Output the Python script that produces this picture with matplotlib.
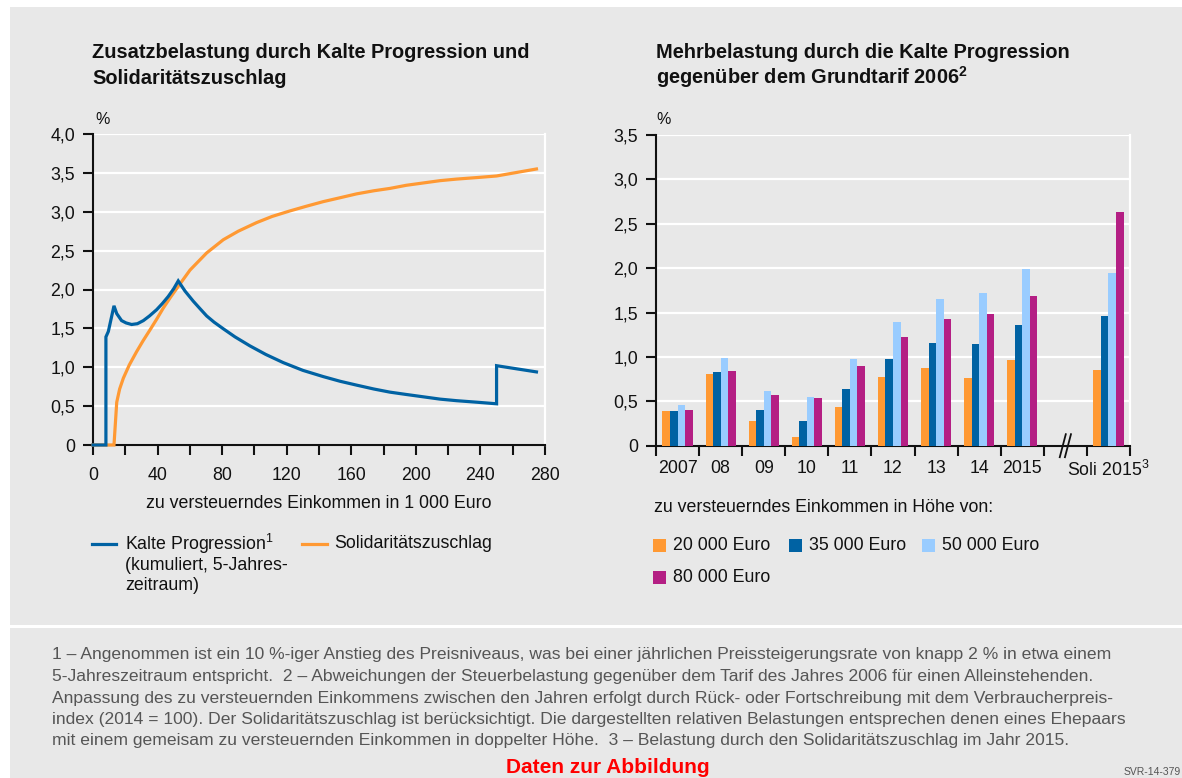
import numpy as np
import matplotlib
matplotlib.use("Agg")
import matplotlib.pyplot as plt
from matplotlib.patches import Rectangle
from matplotlib.lines import Line2D
import matplotlib.transforms as mtransforms

plt.rcParams['font.family'] = ['Liberation Sans', 'DejaVu Sans']
plt.rcParams['mathtext.fontset'] = 'custom'
plt.rcParams['mathtext.rm'] = 'Liberation Sans'
plt.rcParams['mathtext.bf'] = 'Liberation Sans:bold'

# linkes Diagramm: Einkommen in 1 000 Euro / Belastung in %
kp_x = [0, 8, 8, 9.5, 13, 14.7, 17.7, 20.5, 23.9, 27.5, 31.2, 35, 39.4, 43, 46.6, 50, 52.8,
        57, 62.1, 66, 70.4, 75, 80.7, 88, 97.2, 107, 117.8, 130, 142.6, 153, 163.3, 174,
        183.9, 194, 204.5, 215, 225.2, 238, 250, 250, 274.7]
kp_y = [0, 0, 1.39, 1.46, 1.79, 1.69, 1.60, 1.57, 1.55, 1.56, 1.60, 1.66, 1.74, 1.82, 1.91, 2.01, 2.11,
        1.98, 1.85, 1.76, 1.66, 1.58, 1.495, 1.39, 1.275, 1.165, 1.06, 0.96, 0.88, 0.82, 0.77, 0.72,
        0.68, 0.65, 0.62, 0.59, 0.57, 0.55, 0.53, 1.02, 0.94]
soli_x = [0, 13, 14.7, 16.5, 18.8, 22.5, 27, 31, 35.3, 39.5, 43.5, 48, 52.8, 60.1, 70.4, 80.7, 90,
          101.3, 111, 121.9, 132, 142.6, 153, 163.3, 174, 183.9, 194, 204.5, 215, 225.2, 238, 250, 274.7]
soli_y = [0, 0, 0.55, 0.72, 0.86, 1.03, 1.20, 1.34, 1.48, 1.62, 1.76, 1.90, 2.04, 2.25, 2.47, 2.64, 2.75,
          2.86, 2.94, 3.01, 3.07, 3.13, 3.18, 3.23, 3.27, 3.30, 3.34, 3.37, 3.40, 3.42, 3.44, 3.46, 3.55]

# rechtes Diagramm
jahre = ["2007", "08", "09", "10", "11", "12", "13", "14", "2015", "", "Soli 2015$^{\\mathrm{3}}$"]
pos = [0, 1, 2, 3, 4, 5, 6, 7, 8, 10]
eur20 = [0.39, 0.81, 0.28, 0.10, 0.44, 0.77, 0.88, 0.76, 0.97, 0.85]
eur35 = [0.39, 0.83, 0.40, 0.28, 0.64, 0.98, 1.16, 1.15, 1.36, 1.46]
eur50 = [0.46, 0.99, 0.62, 0.55, 0.98, 1.39, 1.65, 1.72, 1.99, 1.94]
eur80 = [0.40, 0.84, 0.57, 0.54, 0.90, 1.22, 1.43, 1.48, 1.69, 2.63]

BG = "#e8e8e8"
c_or = "#ff9933"
c_bl = "#0062a3"
c_lb = "#99ccff"
c_mg = "#b41f84"
W, H = 1182, 778
FS = 12.8

def fx(px):
    return px / W

def fy(py):
    return 1 - py / H

def komma(v):
    return "0" if v == 0 else f"{v:.1f}".replace(".", ",")

fig = plt.figure(figsize=(11.82, 7.78), dpi=100, facecolor="white")
fig.patches.append(Rectangle((fx(10), 0), 1 - fx(10), fy(7), transform=fig.transFigure,
                             facecolor=BG, edgecolor="none", zorder=-10))
fig.patches.append(Rectangle((fx(10), fy(628)), 1 - fx(10), 3 / H, transform=fig.transFigure,
                             facecolor="white", edgecolor="none", zorder=-9))


def style_axes(ax, ymax):
    ax.set_facecolor(BG)
    ax.set_ylim(0, ymax)
    ax.set_yticks(np.arange(0, ymax + 0.01, 0.5))
    ax.set_yticklabels([komma(v) for v in np.arange(0, ymax + 0.01, 0.5)])
    ax.grid(axis="y", color="white", linewidth=1.6)
    ax.set_axisbelow(True)
    ax.spines["top"].set_visible(False)
    ax.spines["right"].set_color("white")
    ax.spines["right"].set_linewidth(1.6)
    for s in ["left", "bottom"]:
        ax.spines[s].set_color("#111111")
        ax.spines[s].set_linewidth(1.5)
    ax.tick_params(axis="y", length=7, width=1.5, pad=6, labelsize=FS, colors="#111111")
    ax.tick_params(axis="x", length=7, width=1.5, pad=9, labelsize=FS, colors="#111111")


# ---- links
ax1 = fig.add_axes([fx(93), fy(445), fx(545) - fx(93), fy(134) - fy(445)])
style_axes(ax1, 4.0)
ax1.set_xlim(0, 280)
ax1.set_xticks(np.arange(0, 281, 20))
ax1.set_xticklabels([str(v) if v % 40 == 0 else "" for v in range(0, 281, 20)])
ax1.plot(soli_x, soli_y, color=c_or, lw=2.3, solid_joinstyle="miter", clip_on=False, zorder=3)
ax1.plot(kp_x, kp_y, color=c_bl, lw=2.3, solid_joinstyle="miter", clip_on=False, zorder=4)

# ---- rechts
ax2 = fig.add_axes([fx(656), fy(445.7), fx(1130) - fx(656), fy(135) - fy(445.7)])
style_axes(ax2, 3.5)
ax2.set_xlim(-0.5, 10.5)
bw = 0.175
p = np.array(pos)
for i, (vals, col) in enumerate([(eur20, c_or), (eur35, c_bl), (eur50, c_lb), (eur80, c_mg)]):
    ax2.bar(p + (i - 1.5) * bw, vals, width=bw, color=col, linewidth=0, zorder=3)
ax2.set_xticks(np.arange(-0.5, 10.6, 1))
ax2.set_xticklabels([])
ax2.set_xticks(np.arange(0, 11), jahre, minor=True)
ax2.tick_params(axis="x", which="minor", length=0, pad=10, labelsize=FS, colors="#111111")
# Achsenbruch
tr = mtransforms.blended_transform_factory(ax2.transData, ax2.transAxes)
for dx in (-0.06, 0.06):
    ax2.add_line(Line2D([9.0 + dx - 0.07, 9.0 + dx + 0.07], [-0.037, 0.037], transform=tr,
                        color="#111111", lw=1.3, clip_on=False, zorder=5))

# ---- Texte
tkw = dict(fontsize=14.4, fontweight="bold", color="#111111", va="baseline")
fig.text(fx(92), fy(58), "Zusatzbelastung durch Kalte Progression und", **tkw)
fig.text(fx(92), fy(84), "Solidaritätszuschlag", **tkw)
fig.text(fx(656), fy(58), "Mehrbelastung durch die Kalte Progression", **tkw)
fig.text(fx(656), fy(84), "gegenüber dem Grundtarif 2006$^{\\mathbf{2}}$", **tkw)
fig.text(fx(95), fy(119), "%", fontsize=11.5, color="#111111", va="center")
fig.text(fx(656), fy(119), "%", fontsize=11.5, color="#111111", va="center")

fig.text(fx(319), fy(503), "zu versteuerndes Einkommen in 1 000 Euro", fontsize=FS,
         color="#111111", ha="center", va="center")
fig.text(fx(654), fy(507), "zu versteuerndes Einkommen in Höhe von:", fontsize=FS,
         color="#111111", va="center")

# Legende links
lkw = dict(fontsize=FS, color="#111111", va="center")
fig.add_artist(Line2D([fx(92), fx(116)], [fy(544), fy(544)], transform=fig.transFigure, color=c_bl, lw=2.3))
fig.text(fx(125), fy(544), "Kalte Progression$^{\\mathrm{1}}$", **lkw)
fig.text(fx(125), fy(565), "(kumuliert, 5-Jahres-", **lkw)
fig.text(fx(125), fy(586), "zeitraum)", **lkw)
fig.add_artist(Line2D([fx(302), fx(327)], [fy(544), fy(544)], transform=fig.transFigure, color=c_or, lw=2.3))
fig.text(fx(334), fy(544), "Solidaritätszuschlag", **lkw)

# Legende rechts
for (x0, y0, col, lab) in [(653, 545, c_or, "20 000 Euro"), (789, 545, c_bl, "35 000 Euro"),
                           (922, 545, c_lb, "50 000 Euro"), (653, 577, c_mg, "80 000 Euro")]:
    fig.patches.append(Rectangle((fx(x0), fy(y0 + 6.5)), 13 / W, 13 / H, transform=fig.transFigure,
                                 facecolor=col, edgecolor="none"))
    fig.text(fx(x0 + 20), fy(y0), lab, **lkw)

# Fussnoten
fn = ["1 – Angenommen ist ein 10 %-iger Anstieg des Preisniveaus, was bei einer jährlichen Preissteigerungsrate von knapp 2 % in etwa einem",
      "5-Jahreszeitraum entspricht.  2 – Abweichungen der Steuerbelastung gegenüber dem Tarif des Jahres 2006 für einen Alleinstehenden.",
      "Anpassung des zu versteuernden Einkommens zwischen den Jahren erfolgt durch Rück- oder Fortschreibung mit dem Verbraucherpreis-",
      "index (2014 = 100). Der Solidaritätszuschlag ist berücksichtigt. Die dargestellten relativen Belastungen entsprechen denen eines Ehepaars",
      "mit einem gemeisam zu versteuernden Einkommen in doppelter Höhe.  3 – Belastung durch den Solidaritätszuschlag im Jahr 2015."]
for i, line in enumerate(fn):
    fig.text(fx(52), fy(655 + i * 21.5), line, fontsize=12.6, color="#555555", va="center")

fig.text(fx(608), fy(773), "Daten zur Abbildung", fontsize=15, fontweight="bold", color="#ff0000",
         ha="center", va="baseline")
fig.text(fx(1181), fy(775), "SVR-14-379", fontsize=7.5, color="#555555", ha="right", va="baseline")

fig.savefig("out.png", dpi=100, facecolor="white")
